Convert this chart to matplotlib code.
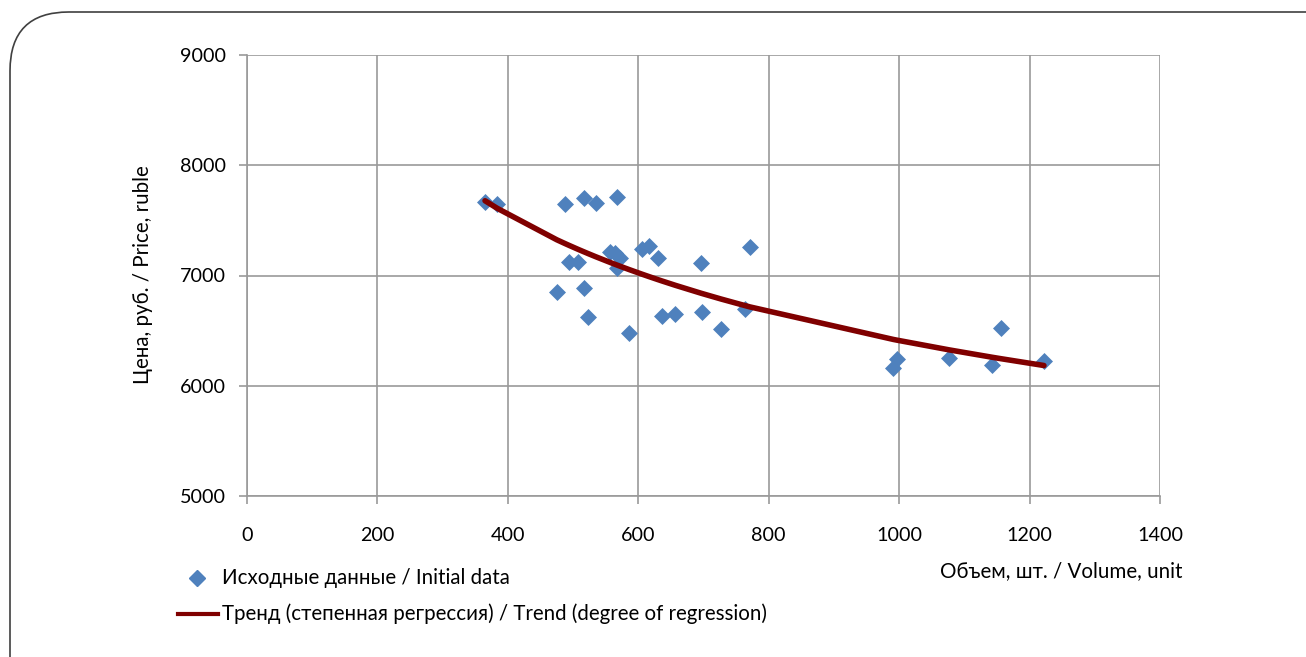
import numpy as np
import matplotlib
matplotlib.use("Agg")
import matplotlib.pyplot as plt
from matplotlib.patches import FancyBboxPatch

plt.rcParams['font.family'] = ['Lato', 'DejaVu Sans']

# data
volume = [365, 384, 487, 516, 535, 567, 493, 507, 475, 516, 523, 586, 557, 565,
          572, 568, 605, 616, 630, 637, 657, 696, 698, 727, 764, 771,
          996, 991, 1077, 1142, 1156, 1222]
price = [7670, 7651, 7646, 7703, 7655, 7715, 7125, 7125, 6853, 6884, 6627, 6481, 7216, 7201,
         7156, 7065, 7240, 7270, 7156, 6635, 6651, 7110, 6669, 6512, 6696, 7256,
         6240, 6161, 6249, 6188, 6524, 6227]

x_ticks = [0, 200, 400, 600, 800, 1000, 1200, 1400]
y_ticks = [5000, 6000, 7000, 8000, 9000]

label_points = 'Исходные данные / Initial data'
label_trend = 'Тренд (степенная регрессия) / Trend (degree of regression)'
xlabel = 'Объем, шт. / Volume, unit'
ylabel = 'Цена, руб. / Price, ruble'

# power trend y = a*x^b
xs = np.array(volume, dtype=float)
ys = np.array(price, dtype=float)
b, lna = np.polyfit(np.log(xs), np.log(ys), 1)
xt = np.sort(xs)
yt = np.exp(lna) * xt ** b

fig = plt.figure(figsize=(13.06, 6.57), dpi=100)
ax = fig.add_axes([247/1306, 1-496/657, (1160-247)/1306, (496-55)/657])

gc = '#9a9a9a'
fs = 14.8
ax.grid(True, color=gc, lw=1.2)
ax.set_axisbelow(True)
ax.scatter(volume, price, marker='D', s=75, color='#4f81bd', zorder=3, linewidths=0)
ax.plot(xt, yt, color='#800000', lw=4, zorder=4, solid_capstyle='round')

ax.set_xlim(0, 1400)
ax.set_ylim(5000, 9000)
ax.set_xticks(x_ticks)
ax.set_yticks(y_ticks)
for s in ['top', 'right']:
    ax.spines[s].set_visible(False)
for s in ['left', 'bottom']:
    ax.spines[s].set_color(gc)
    ax.spines[s].set_linewidth(1.2)
ax.tick_params(direction='out', length=6, width=1.2, color=gc, labelsize=14.2)
ax.tick_params(axis='x', pad=16)
ax.tick_params(axis='y', pad=9)

fig.text(143/1306, 1-275/657, ylabel, rotation=90, ha='center', va='center', fontsize=fs)
fig.text(1183/1306, 1-571/657, xlabel, ha='right', va='center', fontsize=fs)

# legend drawn by hand under the axes
fig.lines.append(plt.Line2D([197/1306], [1-578/657], marker='D', markersize=8,
                            color='#4f81bd', transform=fig.transFigure, lw=0))
fig.text(222/1306, 1-578/657, label_points, ha='left', va='center', fontsize=fs)
fig.lines.append(plt.Line2D([178/1306, 218/1306], [1-614/657, 1-614/657], color='#800000',
                            lw=3, transform=fig.transFigure))
fig.text(222/1306, 1-614/657, label_trend, ha='left', va='center', fontsize=fs)

border = FancyBboxPatch((10/1306, -0.2), 1.2, 1.2 - 12/657,
                        boxstyle='round,pad=0,rounding_size=0.045',
                        transform=fig.transFigure, fill=False, ec='#404040', lw=1.2,
                        mutation_aspect=1306/657)
fig.patches.append(border)

fig.savefig('out.png', dpi=100)
